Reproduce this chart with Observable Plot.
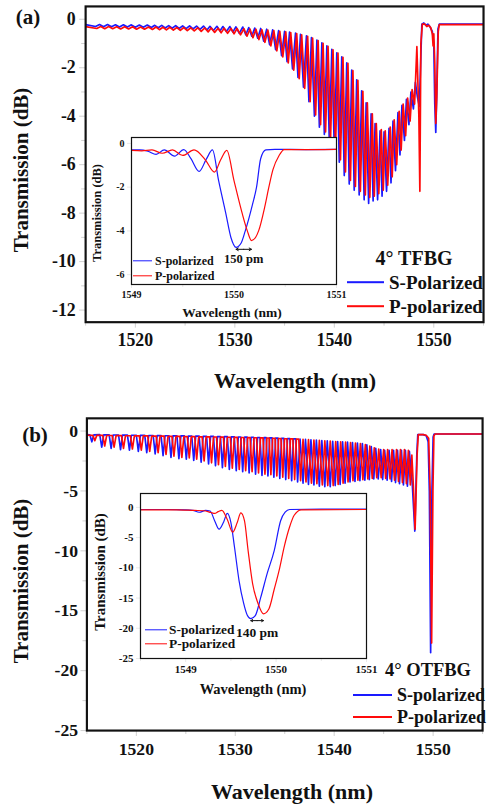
<!DOCTYPE html>
<html><head><meta charset="utf-8">
<script src="https://cdn.jsdelivr.net/npm/d3@7"></script>
<script src="https://cdn.jsdelivr.net/npm/@observablehq/plot@0.6"></script>
<style>
html,body{margin:0;padding:0;background:#fff;overflow:hidden;}
#wrap{position:relative;width:487px;height:804px;overflow:hidden;font-family:"Liberation Serif","Times New Roman",serif;font-weight:bold;color:#111;}
#wrap svg{position:absolute;}
.t{position:absolute;white-space:nowrap;line-height:1;}
.c{transform:translate(-50%,-50%);}
.l{transform:translateY(-50%);}
.r{transform:translate(-50%,-50%) rotate(-90deg);}
.sw{position:absolute;height:2px;transform:translateY(-50%);}
</style></head><body><div id="wrap"></div>
<script>
// ---------------- DATA ----------------
const panelLabels = ["(a)", "(b)"];
const gratingNames = ["4\u00b0 TFBG", "4\u00b0 OTFBG"];
const seriesNamesA = ["S-Polarized", "P-polarized"];
const seriesNamesB = ["S-polarized", "P-polarized"];
const insetSeriesNames = ["S-polarized", "P-polarized"];
const shiftLabels = ["150 pm", "140 pm"];
const axisTitleX = "Wavelength (nm)";
const axisTitleY = "Transmission (dB)";

const mainXTicks = [1520, 1530, 1540, 1550];
const mainXMinor = [1515, 1525, 1535, 1545, 1555];
const aYTicks = [0, -2, -4, -6, -8, -10, -12];
const aYMinor = [-1, -3, -5, -7, -9, -11];
const bYTicks = [0, -5, -10, -15, -20, -25];
const bYMinor = [-2.5, -7.5, -12.5, -17.5, -22.5];
const insetXTicks = [1549, 1550, 1551];
const insetAXMinor = [1549.5, 1550.5];
const insetBXMinor = [1548.5, 1549.5, 1550.5];
const insetAYTicks = [0, -2, -4, -6];
const insetBYTicks = [0, -5, -10, -15, -20, -25];

// panel (a) main: [wavelength nm, transmission dB]
const aS = [[1515,-0.22],[1516.0,-0.30],[1516.4,-0.22],[1516.8,-0.31],[1517.2,-0.22],[1517.6,-0.31],[1518.0,-0.23],[1518.4,-0.32],[1518.8,-0.23],[1519.2,-0.32],[1519.6,-0.23],[1520.0,-0.33],[1520.4,-0.24],[1520.8,-0.33],[1521.2,-0.24],[1521.6,-0.34],[1521.95,-0.25],[1522.3,-0.35],[1522.65,-0.25],[1523.0,-0.36],[1523.35,-0.26],[1523.7,-0.37],[1524.05,-0.26],[1524.4,-0.38],[1524.75,-0.27],[1525.1,-0.39],[1525.45,-0.27],[1525.8,-0.40],[1526.15,-0.28],[1526.5,-0.42],[1526.85,-0.28],[1527.2,-0.44],[1527.5,-0.29],[1527.85,-0.46],[1528.2,-0.29],[1528.5,-0.48],[1528.8,-0.30],[1529.15,-0.50],[1529.5,-0.30],[1529.8,-0.53],[1530.1,-0.31],[1530.45,-0.58],[1530.8,-0.32],[1531.1,-0.64],[1531.4,-0.34],[1531.7,-0.70],[1532.0,-0.36],[1532.3,-0.78],[1532.6,-0.38],[1532.9,-0.90],[1533.2,-0.41],[1533.5,-1.05],[1533.8,-0.44],[1534.1,-1.25],[1534.4,-0.47],[1534.7,-1.50],[1535.0,-0.50],[1535.25,-1.75],[1535.5,-0.53],[1535.8,-2.05],[1536.1,-0.57],[1536.35,-2.40],[1536.6,-0.62],[1536.9,-2.80],[1537.2,-0.68],[1537.45,-3.40],[1537.7,-0.76],[1538.0,-4.00],[1538.25,-0.86],[1538.5,-4.45],[1538.75,-0.97],[1539.0,-4.75],[1539.25,-1.10],[1539.5,-5.05],[1539.75,-1.24],[1540.0,-5.40],[1540.25,-1.38],[1540.5,-5.90],[1540.75,-1.55],[1541.0,-6.45],[1541.25,-1.80],[1541.5,-6.80],[1541.75,-2.10],[1542.0,-7.05],[1542.25,-2.50],[1542.5,-7.25],[1542.75,-2.95],[1543.0,-7.45],[1543.2,-3.45],[1543.45,-7.60],[1543.7,-3.90],[1543.9,-7.50],[1544.1,-4.30],[1544.35,-7.45],[1544.6,-4.60],[1544.8,-7.30],[1545.0,-4.65],[1545.25,-7.10],[1545.5,-4.50],[1545.7,-6.75],[1545.9,-4.20],[1546.15,-6.25],[1546.4,-3.85],[1546.6,-5.60],[1546.8,-3.55],[1547.05,-5.00],[1547.25,-3.30],[1547.5,-4.35],[1547.7,-3.00],[1547.95,-3.70],[1548.15,-2.60],[1548.35,-3.20],[1548.55,-3.60],[1548.7,-1.50],[1548.8,-0.20],[1549.0,-0.15],[1549.2,-0.25],[1549.4,-0.20],[1549.6,-0.30],[1549.85,-0.50],[1550.0,-1.00],[1550.1,-3.50],[1550.2,-4.67],[1550.3,-3.00],[1550.42,-0.40],[1550.55,-0.20],[1555,-0.20]];
const aP = [[1515,-0.30],[1516.12,-0.38],[1516.52,-0.30],[1516.92,-0.39],[1517.32,-0.30],[1517.72,-0.39],[1518.12,-0.31],[1518.52,-0.40],[1518.92,-0.31],[1519.32,-0.40],[1519.72,-0.31],[1520.12,-0.41],[1520.52,-0.32],[1520.92,-0.41],[1521.32,-0.32],[1521.72,-0.42],[1522.07,-0.32],[1522.42,-0.43],[1522.77,-0.33],[1523.12,-0.44],[1523.47,-0.33],[1523.82,-0.45],[1524.17,-0.34],[1524.52,-0.46],[1524.87,-0.34],[1525.22,-0.47],[1525.57,-0.35],[1525.92,-0.48],[1526.27,-0.35],[1526.62,-0.50],[1526.97,-0.36],[1527.32,-0.52],[1527.62,-0.36],[1527.97,-0.54],[1528.32,-0.37],[1528.62,-0.56],[1528.92,-0.37],[1529.27,-0.58],[1529.62,-0.38],[1529.92,-0.60],[1530.22,-0.38],[1530.57,-0.64],[1530.92,-0.39],[1531.22,-0.70],[1531.52,-0.40],[1531.82,-0.76],[1532.12,-0.41],[1532.42,-0.84],[1532.72,-0.43],[1533.02,-0.95],[1533.32,-0.45],[1533.62,-1.10],[1533.92,-0.47],[1534.22,-1.30],[1534.52,-0.50],[1534.82,-1.55],[1535.12,-0.52],[1535.37,-1.80],[1535.62,-0.55],[1535.92,-2.10],[1536.22,-0.59],[1536.47,-2.45],[1536.72,-0.64],[1537.02,-2.85],[1537.32,-0.70],[1537.57,-3.40],[1537.82,-0.78],[1538.12,-3.95],[1538.37,-0.88],[1538.62,-4.35],[1538.87,-0.99],[1539.12,-4.65],[1539.37,-1.12],[1539.62,-4.95],[1539.87,-1.26],[1540.12,-5.30],[1540.37,-1.40],[1540.62,-5.80],[1540.87,-1.57],[1541.12,-6.30],[1541.37,-1.82],[1541.62,-6.65],[1541.87,-2.12],[1542.12,-6.90],[1542.37,-2.52],[1542.62,-7.10],[1542.87,-2.97],[1543.12,-7.25],[1543.32,-3.45],[1543.57,-7.35],[1543.82,-3.90],[1544.02,-7.30],[1544.22,-4.30],[1544.47,-7.20],[1544.72,-4.55],[1544.92,-7.05],[1545.12,-4.60],[1545.37,-6.85],[1545.62,-4.45],[1545.82,-6.50],[1546.02,-4.15],[1546.27,-6.00],[1546.52,-3.80],[1546.72,-5.40],[1546.92,-3.50],[1547.17,-4.80],[1547.37,-3.25],[1547.62,-4.20],[1547.82,-2.90],[1548.07,-3.50],[1548.3,-1.13],[1548.5,-4.00],[1548.6,-7.10],[1548.7,-1.00],[1548.85,-0.20],[1549.1,-0.20],[1549.3,-0.30],[1549.5,-0.25],[1549.7,-0.35],[1549.85,-0.60],[1549.93,-1.10],[1550.0,-0.60],[1550.1,-1.80],[1550.2,-4.30],[1550.3,-3.20],[1550.45,-0.50],[1550.55,-0.22],[1555,-0.22]];

// panel (b) main
const bS = [[1515,-0.30],[1515.3,-0.32],[1515.5,-0.90],[1515.7,-0.32],[1516.3,-0.30],[1516.5,-1.35],[1516.7,-0.32],[1517.25,-0.32],[1517.45,-1.45],[1517.65,-0.33],[1518.2,-0.33],[1518.4,-1.55],[1518.6,-0.34],[1519.1,-0.34],[1519.3,-1.60],[1519.5,-0.35],[1520.0,-0.35],[1520.2,-1.70],[1520.4,-0.36],[1520.85,-0.36],[1521.05,-1.80],[1521.25,-0.37],[1521.7,-0.37],[1521.9,-1.90],[1522.1,-0.38],[1522.5,-0.38],[1522.7,-2.05],[1522.9,-0.39],[1523.3,-0.39],[1523.5,-2.20],[1523.7,-0.40],[1524.1,-0.40],[1524.3,-2.30],[1524.5,-0.41],[1524.85,-0.41],[1525.05,-2.35],[1525.25,-0.42],[1525.6,-0.42],[1525.8,-2.45],[1526.0,-0.43],[1526.35,-0.43],[1526.55,-2.60],[1526.75,-0.44],[1527.1,-0.44],[1527.3,-2.75],[1527.5,-0.45],[1527.8,-0.45],[1528.0,-2.90],[1528.2,-0.46],[1528.5,-0.46],[1528.7,-3.05],[1528.9,-0.47],[1529.2,-0.47],[1529.4,-3.20],[1529.6,-0.48],[1529.9,-0.48],[1530.1,-3.30],[1530.3,-0.50],[1530.55,-0.50],[1530.75,-3.40],[1530.95,-0.51],[1531.2,-0.51],[1531.4,-3.50],[1531.6,-0.52],[1531.85,-0.52],[1532.05,-3.60],[1532.25,-0.54],[1532.5,-0.54],[1532.7,-3.70],[1532.9,-0.55],[1533.12,-0.55],[1533.3,-3.75],[1533.48,-0.57],[1533.72,-0.57],[1533.9,-3.85],[1534.08,-0.59],[1534.32,-0.59],[1534.5,-3.95],[1534.68,-0.61],[1534.92,-0.61],[1535.1,-4.05],[1535.28,-0.63],[1535.52,-0.63],[1535.7,-4.15],[1535.88,-0.65],[1536.12,-0.65],[1536.3,-4.25],[1536.55,-0.68],[1536.85,-4.35],[1537.1,-0.70],[1537.4,-4.45],[1537.65,-0.73],[1537.95,-4.50],[1538.2,-0.76],[1538.5,-4.60],[1538.75,-0.79],[1539.05,-4.65],[1539.3,-0.82],[1539.6,-4.65],[1539.85,-0.85],[1540.1,-4.55],[1540.35,-0.88],[1540.6,-4.45],[1540.85,-0.90],[1541.1,-4.35],[1541.35,-0.93],[1541.6,-4.25],[1541.85,-0.96],[1542.1,-4.20],[1542.35,-1.00],[1542.6,-4.15],[1542.85,-1.05],[1543.1,-4.10],[1543.3,-1.15],[1543.55,-4.05],[1543.75,-1.30],[1544.0,-4.00],[1544.2,-1.45],[1544.45,-4.00],[1544.7,-1.55],[1544.9,-4.05],[1545.1,-1.60],[1545.35,-4.10],[1545.55,-1.60],[1545.8,-4.20],[1546.0,-1.60],[1546.2,-4.30],[1546.4,-1.60],[1546.6,-4.40],[1546.8,-1.60],[1547.0,-4.50],[1547.2,-1.60],[1547.4,-4.60],[1547.6,-1.70],[1547.9,-4.50],[1548.15,-8.35],[1548.35,-2.00],[1548.45,-0.30],[1549.0,-0.30],[1549.3,-0.40],[1549.5,-0.90],[1549.62,-5.00],[1549.75,-18.50],[1549.88,-5.00],[1550.0,-0.50],[1550.1,-0.25],[1555,-0.25]];
const bP = [[1515,-0.35],[1515.6,-0.36],[1515.8,-0.80],[1516.0,-0.36],[1516.6,-0.36],[1516.8,-1.25],[1517.0,-0.37],[1517.55,-0.37],[1517.75,-1.35],[1517.95,-0.38],[1518.5,-0.38],[1518.7,-1.45],[1518.9,-0.39],[1519.4,-0.39],[1519.6,-1.50],[1519.8,-0.40],[1520.3,-0.40],[1520.5,-1.60],[1520.7,-0.41],[1521.15,-0.41],[1521.35,-1.70],[1521.55,-0.42],[1522.0,-0.42],[1522.2,-1.80],[1522.4,-0.43],[1522.8,-0.43],[1523.0,-1.95],[1523.2,-0.44],[1523.6,-0.44],[1523.8,-2.10],[1524.0,-0.45],[1524.4,-0.45],[1524.6,-2.20],[1524.8,-0.46],[1525.15,-0.46],[1525.35,-2.25],[1525.55,-0.47],[1525.9,-0.47],[1526.1,-2.35],[1526.3,-0.48],[1526.65,-0.48],[1526.85,-2.50],[1527.05,-0.49],[1527.4,-0.49],[1527.6,-2.65],[1527.8,-0.50],[1528.1,-0.50],[1528.3,-2.80],[1528.5,-0.51],[1528.8,-0.51],[1529.0,-2.95],[1529.2,-0.52],[1529.5,-0.52],[1529.7,-3.10],[1529.9,-0.53],[1530.2,-0.53],[1530.4,-3.20],[1530.6,-0.54],[1530.85,-0.54],[1531.05,-3.30],[1531.25,-0.55],[1531.5,-0.55],[1531.7,-3.40],[1531.9,-0.56],[1532.15,-0.56],[1532.35,-3.50],[1532.55,-0.57],[1532.8,-0.57],[1533.0,-3.60],[1533.2,-0.58],[1533.42,-0.58],[1533.6,-3.65],[1533.78,-0.60],[1534.02,-0.60],[1534.2,-3.75],[1534.38,-0.62],[1534.62,-0.62],[1534.8,-3.85],[1534.98,-0.64],[1535.22,-0.64],[1535.4,-3.95],[1535.58,-0.66],[1535.82,-0.66],[1536.0,-4.05],[1536.18,-0.68],[1536.42,-0.68],[1536.6,-4.15],[1536.85,-0.70],[1537.15,-4.25],[1537.4,-0.72],[1537.7,-4.35],[1537.95,-0.75],[1538.25,-4.40],[1538.5,-0.78],[1538.8,-4.50],[1539.05,-0.81],[1539.35,-4.55],[1539.6,-0.84],[1539.9,-4.55],[1540.15,-0.87],[1540.4,-4.45],[1540.65,-0.90],[1540.9,-4.35],[1541.15,-0.93],[1541.4,-4.25],[1541.65,-0.96],[1541.9,-4.15],[1542.15,-1.00],[1542.4,-4.10],[1542.65,-1.05],[1542.9,-4.05],[1543.15,-1.12],[1543.4,-4.00],[1543.6,-1.25],[1543.85,-3.95],[1544.05,-1.40],[1544.3,-3.90],[1544.5,-1.50],[1544.75,-3.90],[1545.0,-1.55],[1545.2,-3.95],[1545.4,-1.55],[1545.65,-4.00],[1545.85,-1.55],[1546.1,-4.10],[1546.3,-1.55],[1546.5,-4.20],[1546.7,-1.55],[1546.9,-4.30],[1547.1,-1.55],[1547.3,-4.40],[1547.5,-1.60],[1547.7,-4.50],[1547.85,-2.00],[1548.0,-4.50],[1548.18,-8.20],[1548.38,-2.00],[1548.5,-0.30],[1549.0,-0.30],[1549.3,-0.35],[1549.55,-0.60],[1549.7,-5.00],[1549.85,-17.70],[1549.98,-5.00],[1550.08,-0.40],[1550.2,-0.25],[1555,-0.25]];

// insets
const iaS = [[1549.0,-0.30],[1549.08,-0.30],[1549.16,-0.36],[1549.24,-0.50],[1549.32,-0.30],[1549.42,-0.58],[1549.51,-0.28],[1549.58,-0.70],[1549.66,-1.28],[1549.73,-0.72],[1549.79,-0.30],[1549.85,-1.70],[1549.92,-3.20],[1549.97,-4.30],[1550.02,-4.75],[1550.07,-4.55],[1550.11,-4.00],[1550.18,-2.80],[1550.22,-2.00],[1550.26,-0.70],[1550.31,-0.30],[1550.4,-0.27],[1550.7,-0.28],[1551.0,-0.27]];
const iaP = [[1549.0,-0.32],[1549.1,-0.34],[1549.2,-0.30],[1549.3,-0.45],[1549.4,-0.30],[1549.5,-0.55],[1549.61,-0.30],[1549.72,-0.75],[1549.81,-1.31],[1549.87,-0.75],[1549.93,-0.32],[1550.0,-1.70],[1550.08,-3.20],[1550.13,-4.00],[1550.17,-4.44],[1550.21,-4.30],[1550.24,-4.00],[1550.3,-2.90],[1550.34,-2.00],[1550.38,-1.20],[1550.44,-0.55],[1550.49,-0.28],[1550.8,-0.28],[1551.0,-0.27]];
const ibS = [[1548.5,-0.35],[1548.8,-0.35],[1549.0,-0.40],[1549.08,-0.50],[1549.15,-0.80],[1549.22,-0.50],[1549.27,-0.60],[1549.32,-2.20],[1549.37,-3.60],[1549.42,-2.40],[1549.46,-1.00],[1549.5,-2.50],[1549.54,-6.60],[1549.59,-12.10],[1549.64,-15.80],[1549.68,-17.80],[1549.72,-18.40],[1549.77,-17.90],[1549.83,-14.90],[1549.9,-11.00],[1549.98,-7.10],[1550.05,-2.20],[1550.1,-0.80],[1550.15,-0.35],[1550.5,-0.30],[1551.0,-0.30]];
const ibP = [[1548.5,-0.40],[1548.9,-0.40],[1549.1,-0.50],[1549.2,-0.55],[1549.28,-0.85],[1549.32,-1.00],[1549.36,-0.70],[1549.4,-0.50],[1549.46,-2.00],[1549.52,-4.10],[1549.57,-2.50],[1549.61,-0.90],[1549.65,-2.20],[1549.69,-7.10],[1549.74,-12.60],[1549.8,-15.90],[1549.86,-17.60],[1549.92,-16.80],[1549.98,-13.50],[1550.04,-10.00],[1550.09,-6.50],[1550.15,-3.20],[1550.2,-1.30],[1550.28,-0.40],[1551.0,-0.35]];

// ---------------- DRAW ----------------
const BLUE = "#1a1aff", RED = "#ff0a0a";
const FONT = '"Liberation Serif","Times New Roman",serif';
const wrap = document.getElementById("wrap");

function panel(o) {
  const marks = [];
  if (o.inset) marks.push(Plot.frame({fill: "white", stroke: "none"}));
  marks.push(Plot.line(o.s, {x: d => d[0], y: d => d[1], stroke: BLUE, strokeWidth: o.lw, curve: o.curve, clip: true}));
  marks.push(Plot.line(o.p, {x: d => d[0], y: d => d[1], stroke: RED, strokeWidth: o.lw, curve: o.curve, clip: true}));
  marks.push(Plot.frame({stroke: "#111", strokeWidth: o.fw}));
  const tx = {fontSize: o.fs, fontWeight: "bold", fill: "#111", stroke: "#111", strokeWidth: o.tw, label: null};
  marks.push(Plot.axisX(o.xt, {...tx, tickSize: o.ts, tickPadding: o.tpx, tickFormat: d => String(d)}));
  if (o.xm) marks.push(Plot.axisX(o.xm, {...tx, tickSize: o.tsm, tickFormat: () => ""}));
  marks.push(Plot.axisY(o.yt, {...tx, tickSize: o.ts, tickPadding: o.tpy, tickFormat: d => String(d)}));
  if (o.ym) marks.push(Plot.axisY(o.ym, {...tx, tickSize: o.tsm, tickFormat: () => ""}));
  if (o.extra) marks.push(...o.extra);
  const svg = Plot.plot({
    width: o.w, height: o.h,
    marginLeft: o.mL, marginRight: o.mR, marginTop: o.mT, marginBottom: o.mB,
    style: {background: "transparent", fontFamily: FONT, color: "#111", overflow: "visible"},
    x: {domain: o.xd}, y: {domain: o.yd},
    marks
  });
  svg.style.left = o.left + "px";
  svg.style.top = o.top + "px";
  wrap.appendChild(svg);
}

function shiftMarks(s, p, label, fs, dyText) {
  const ms = d3.least(s, d => d[1]);
  const mp = d3.least(p, d => d[1]);
  const mid = (ms[0] + mp[0]) / 2;
  const arr = [{x1: mid, x2: ms[0], y: ms[1]}, {x1: mid, x2: mp[0], y: ms[1]}];
  return [
    Plot.arrow(arr, {x1: "x1", x2: "x2", y1: "y", y2: "y", stroke: "#111", strokeWidth: 1, headLength: 4, dy: 2}),
    Plot.text([{x: mid, y: ms[1], t: label}], {x: "x", y: "y", text: "t", dy: dyText, fontSize: fs, fontWeight: "bold", fill: "#111", fontFamily: FONT})
  ];
}

// main (a)
panel({s: aS, p: aP, left: 0, top: 0, w: 492, h: 400, mL: 86, mR: 4, mT: 6, mB: 75,
  xd: [1515, 1555], yd: [-12.5, 0.53], xt: mainXTicks, xm: mainXMinor, yt: aYTicks, ym: aYMinor,
  lw: 1.7, fw: 2.2, fs: 18, tw: 0.2, ts: 6, tsm: 4, tpx: 5, tpy: 4, curve: "linear"});
// inset (a)
panel({inset: true, s: iaS, p: iaP, left: 91, top: 130, w: 255, h: 174, mL: 40, mR: 10, mT: 7, mB: 20,
  xd: [1549, 1551], yd: [-6.45, 0.27], xt: insetXTicks, xm: insetAXMinor, yt: insetAYTicks,
  lw: 1.2, fw: 1.2, fs: 10, tw: 0.1, ts: 4, tsm: 3, tpx: 2, tpy: 3, curve: "monotone-x",
  extra: shiftMarks(iaS, iaP, shiftLabels[0], 12.5, 12)});
// main (b)
panel({s: bS, p: bP, left: 0, top: 410, w: 496, h: 400, mL: 88, mR: 5, mT: 8, mB: 74,
  xd: [1515, 1555], yd: [-25, 1.06], xt: mainXTicks, xm: mainXMinor, yt: bYTicks, ym: bYMinor,
  lw: 1.7, fw: 2.2, fs: 18, tw: 0.2, ts: 6, tsm: 4, tpx: 6, tpy: 3, curve: "linear"});
// inset (b)
panel({inset: true, s: ibS, p: ibP, left: 100, top: 485, w: 276, h: 195, mL: 40, mR: 10, mT: 8, mB: 22,
  xd: [1548.5, 1551], yd: [-25, 2.3], xt: insetXTicks, xm: insetBXMinor, yt: insetBYTicks,
  lw: 1.2, fw: 1.2, fs: 11, tw: 0.1, ts: 4, tsm: 3, tpx: 3, tpy: 3, curve: "monotone-x",
  extra: shiftMarks(ibS, ibP, shiftLabels[1], 13.5, 14)});

// ---------------- TEXT / LEGENDS ----------------
function txt(s, x, y, fs, cls) {
  const d = document.createElement("div");
  d.className = "t " + cls;
  d.style.left = x + "px"; d.style.top = y + "px"; d.style.fontSize = fs + "px";
  d.textContent = s;
  wrap.appendChild(d);
}
function sw(x1, x2, y, col, h) {
  const d = document.createElement("div");
  d.className = "sw";
  d.style.left = x1 + "px"; d.style.width = (x2 - x1) + "px"; d.style.top = y + "px";
  d.style.background = col; d.style.height = (h || 2) + "px";
  wrap.appendChild(d);
}
txt(panelLabels[0], 28, 17, 21, "c");
txt(panelLabels[1], 35, 435, 21, "c");
txt(axisTitleX, 295, 381, 22, "c");
txt(axisTitleX, 292, 792, 22, "c");
txt(axisTitleY, 21, 170, 21, "r");
txt(axisTitleY, 21, 581, 21, "r");
// inset axis titles
txt(axisTitleX, 232, 313, 13.5, "c");
txt(axisTitleY, 97, 213, 12.5, "r");
txt(axisTitleX, 253, 689, 14.5, "c");
txt(axisTitleY, 100, 572, 15, "r");
// main legends
txt(gratingNames[0], 414, 258, 20, "c");
sw(347, 384, 282, BLUE, 1.6); txt(seriesNamesA[0], 389, 282, 19, "l");
sw(347, 384, 306, RED, 1.6); txt(seriesNamesA[1], 389, 306, 19, "l");
txt(gratingNames[1], 428, 670, 18.5, "c");
sw(353, 392, 695, BLUE, 2); txt(seriesNamesB[0], 397, 695, 18, "l");
sw(353, 392, 717, RED, 2); txt(seriesNamesB[1], 397, 717, 18, "l");
// inset legends
sw(133, 152, 261, BLUE, 1.4); txt(insetSeriesNames[0], 155, 261, 12, "l");
sw(133, 152, 276, RED, 1.4); txt(insetSeriesNames[1], 155, 276, 12, "l");
sw(145, 167, 630, BLUE, 1.4); txt(insetSeriesNames[0], 169, 630, 13.4, "l");
sw(145, 167, 644, RED, 1.4); txt(insetSeriesNames[1], 169, 644, 13.4, "l");
</script></body></html>
